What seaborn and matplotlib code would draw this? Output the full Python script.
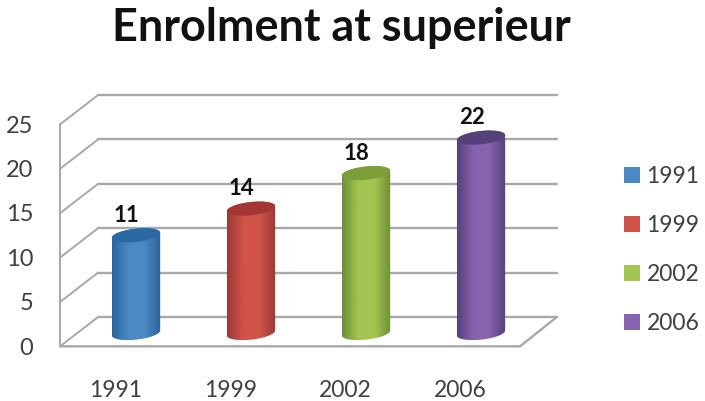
import numpy as np
import pandas as pd
import matplotlib
matplotlib.use("Agg")
import matplotlib.pyplot as plt
from matplotlib.colors import LinearSegmentedColormap
from matplotlib.patches import Patch, Polygon
import seaborn as sns

years = ["1991", "1999", "2002", "2006"]
enrolment = [11, 14, 18, 22]
y_ticks = [0, 5, 10, 15, 20, 25]

# edge, centre, lid colours for each cylinder
edge_colors = ["#2c659c", "#9c3a37", "#6e9135", "#56407c"]
mid_colors = ["#4b88c4", "#d05448", "#a4c552", "#8763ae"]
lid_colors = ["#2b68a4", "#a33634", "#7b9e38", "#54407a"]

title_color = "#111111"
text_color = "#404040"
grid_color = "#a8a8a8"

# 3d look: the walls are shifted from the plane the bars stand on
back_shift = 1.8
front_shift = -1.5
back_left, back_right = -0.33, 3.66
front_left, front_right = -0.66, 3.34
lid_half_y = 0.75
lid_tilt = 0.28

sns.set_style("white")
plt.rcParams["font.family"] = ["Lato", "DejaVu Sans"]

fig = plt.figure(figsize=(7.05, 4.01), dpi=100)
ax = fig.add_axes([0, 0, 1, 1])

df = pd.DataFrame({"year": years, "enrolment": enrolment})
sns.barplot(data=df, x="year", y="enrolment", hue="year", palette=mid_colors,
            width=0.42, dodge=False, legend=False, ax=ax, zorder=3)

# walls and floor
for v in y_ticks:
    ax.plot([back_left, back_right], [v + back_shift] * 2, color=grid_color, lw=1.7, zorder=1)
    ax.plot([front_left, back_left], [v + front_shift, v + back_shift], color=grid_color, lw=1.4, zorder=1)
    ax.text(front_left - 0.235, v + front_shift - 0.2, str(v), ha="right", va="center",
            fontsize=17, color=text_color)
ax.plot([front_left, front_left], [y_ticks[0] + front_shift, y_ticks[-1] + front_shift],
        color=grid_color, lw=1.4, zorder=1)
ax.plot([front_left, front_right, back_right],
        [front_shift, front_shift, back_shift], color=grid_color, lw=1.7, zorder=1)

t = np.linspace(0, 2 * np.pi, 80)
bars = [p for p in ax.patches if p.get_height() > 0]
for i, bar in enumerate(bars):
    left, w, h = bar.get_x(), bar.get_width(), bar.get_height()
    cx = left + w / 2
    bar.set_visible(False)

    # body outline with a tilted rounded bottom and top
    lower = np.pi + np.linspace(0, np.pi, 40)
    upper = np.linspace(0, np.pi, 40)
    xs = np.r_[cx + w / 2 * np.cos(lower), cx + w / 2 * np.cos(upper)]
    ys = np.r_[lid_half_y * np.sin(lower) + lid_tilt * np.cos(lower),
               h + lid_half_y * np.sin(upper) + lid_tilt * np.cos(upper)]
    body = Polygon(np.c_[xs, ys], closed=True, transform=ax.transData, fc="none", ec="none")
    ax.add_patch(body)

    cmap = LinearSegmentedColormap.from_list(
        "cyl", [edge_colors[i], mid_colors[i], mid_colors[i], edge_colors[i]])
    grad = np.linspace(0, 1, 64).reshape(1, -1)
    im = ax.imshow(grad, cmap=cmap, aspect="auto", zorder=3,
                   extent=[left, left + w, -1, h + 1])
    im.set_clip_path(body)

    # lid
    lid = np.c_[cx + w / 2 * np.cos(t), h + lid_half_y * np.sin(t) + lid_tilt * np.cos(t)]
    ax.add_patch(Polygon(lid, closed=True, fc=lid_colors[i], ec="none", zorder=4))

    ax.text(i - 0.08, h + 2.25, str(enrolment[i]), ha="center", va="center",
            fontsize=16, fontweight="bold", color="#111111", zorder=5)
    ax.text(i - 0.18, -6.45, years[i], ha="center", va="center",
            fontsize=16.5, color=text_color)

handles = [Patch(fc=c, ec="none", label=y) for c, y in zip(mid_colors, years)]
ax.legend(handles=handles, loc="center left", bbox_to_anchor=(0.885, 0.376), frameon=False,
          fontsize=16.5, labelcolor=text_color, handlelength=0.68, handleheight=0.68,
          handletextpad=0.3, labelspacing=1.22, borderpad=0, borderaxespad=0)

ax.text(0.484, 0.93, "Enrolment at superieur", transform=ax.transAxes, ha="center", va="center",
        fontsize=32.4, fontweight="bold", color=title_color)

ax.set_xlim(-1.183, 4.948)
ax.set_ylim(-7.66, 37.5)
ax.axis("off")

fig.savefig("out.png", dpi=100)
